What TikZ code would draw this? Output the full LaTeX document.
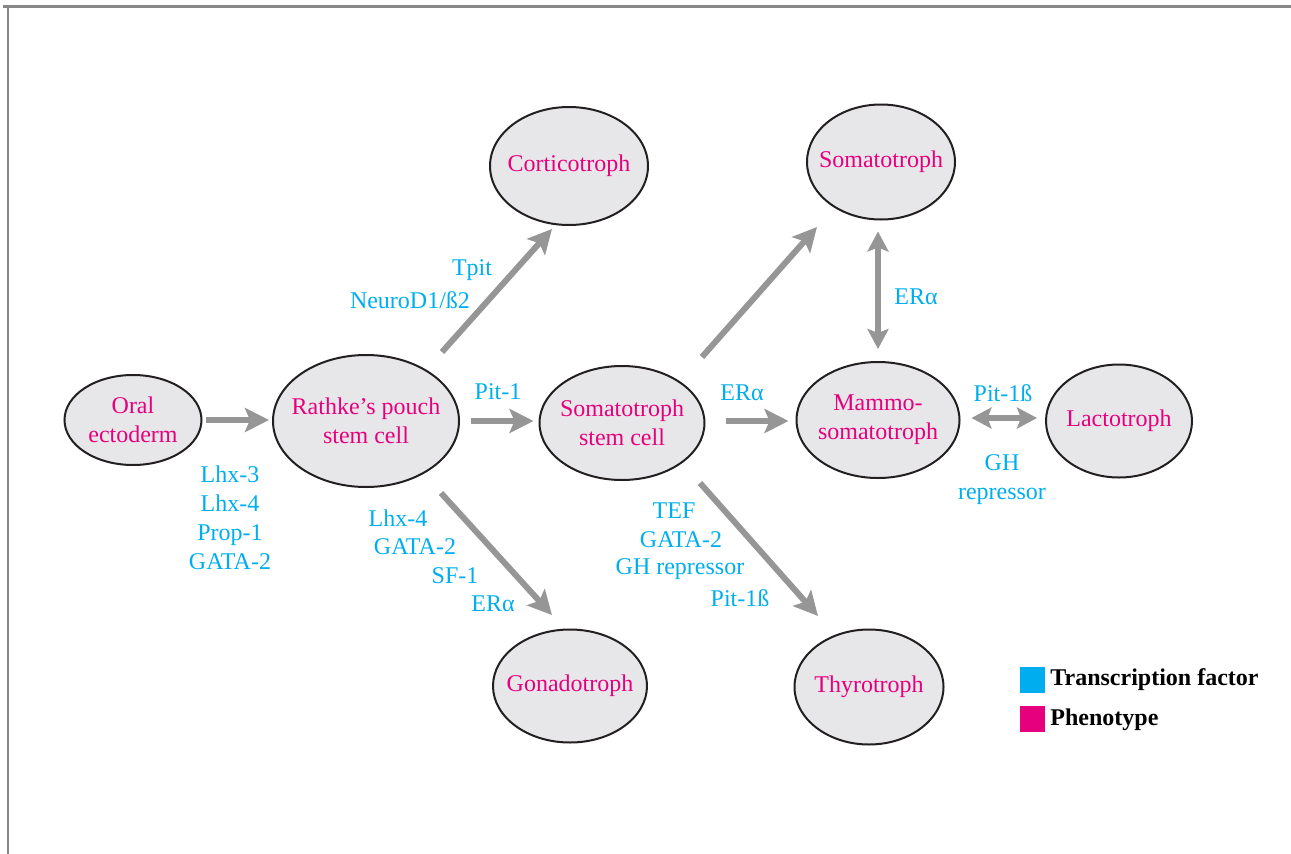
\documentclass[tikz,border=0pt]{standalone}
\usepackage{fontspec}
\setmainfont{Liberation Serif}
\usetikzlibrary{positioning,shapes.geometric,arrows.meta}
\definecolor{pheno}{RGB}{230,0,126}
\definecolor{factor}{RGB}{0,174,239}
\definecolor{cellfill}{RGB}{231,231,233}
\definecolor{cellline}{RGB}{35,31,32}
\definecolor{arrowgray}{RGB}{150,150,150}
\definecolor{framegray}{RGB}{135,135,135}

\begin{document}
\begin{tikzpicture}[x=1pt, y=-1pt,
  every node/.style={font=\fontsize{24}{29}\selectfont, inner sep=0pt},
  cell/.style={ellipse, draw=cellline, line width=2pt, fill=cellfill, text=pheno, align=center, inner sep=-40pt},
  tf/.style={text=factor, align=center},
  key/.style={minimum width=25pt, minimum height=26pt},
  flow/.style={draw=arrowgray, line width=6pt, -{Stealth[length=24pt,width=24pt,inset=5pt]}},
  both/.style={draw=arrowgray, line width=6pt, {Stealth[length=20pt,width=21pt,inset=4pt]}-{Stealth[length=20pt,width=21pt,inset=4pt]}}]
\useasboundingbox (0,0) rectangle (1291,854);
\draw[framegray, line width=3pt] (3,6) -- (1291,6);
\draw[framegray, line width=2.5pt] (8,6) -- (8,854);

\node (oral) [cell, minimum width=137pt, minimum height=90pt] at (133,420) {Oral\\ectoderm};
\node (rathke) [cell, minimum width=186pt, minimum height=132pt] at (366,421) {Rathke's pouch\\stem cell};
\node (cortico) [cell, minimum width=158pt, minimum height=118pt] at (569,166) {Corticotroph};
\node (stem) [cell, minimum width=165pt, minimum height=114pt] at (622,423) {Somatotroph\\stem cell};
\node (gonado) [cell, minimum width=154pt, minimum height=113pt] at (570,686) {Gonadotroph};
\node (somato) [cell, minimum width=148pt, minimum height=115pt] at (881,162) {Somatotroph};
\node (mammo) [cell, minimum width=163pt, minimum height=116pt] at (878,420) {Mammo-\\somatotroph};
\node (lacto) [cell, minimum width=146pt, minimum height=113pt] at (1119,421) {Lactotroph};
\node (thyro) [cell, minimum width=149pt, minimum height=115pt] at (869,687) {Thyrotroph};

\draw[flow] ([shift={(3,0)}]oral.east) -- ([shift={(-3,-1)}]rathke.west);
\draw[flow] ([shift={(11,0)}]rathke.east) -- ([shift={(-5,-2)}]stem.west);
\draw[flow] ([shift={(76,-69)}]rathke.center) -- ([shift={(-17,63)}]cortico.center);
\draw[flow] ([shift={(75,72)}]rathke.center) -- ([shift={(-18,-71)}]gonado.center);
\draw[flow] ([shift={(20,-2)}]stem.east) -- ([shift={(-7,1)}]mammo.west);
\draw[flow] ([shift={(80,-66)}]stem.center) -- ([shift={(-64,65)}]somato.center);
\draw[flow] ([shift={(78,60)}]stem.center) -- ([shift={(-51,-71)}]thyro.center);
\draw[both] ([shift={(-3,11)}]somato.south) -- ([shift={(0,-12)}]mammo.north);
\draw[both] ([shift={(11,-2)}]mammo.east) -- ([shift={(-8,-3)}]lacto.west);

\node (oralfactors) [tf] at (230,518) {Lhx-3\\Lhx-4\\Prop-1\\GATA-2};
\node (tpit) [tf] at (472,270) {Tpit};
\node (neurod) [tf] at (410,300) {NeuroD1/ß2};
\node (pitone) [tf] at (498,392) {Pit-1};
\node (glhx) [tf] at (398,518) {Lhx-4};
\node (ggata) [tf] at (415,547) {GATA-2};
\node (gsf) [tf] at (455,576) {SF-1};
\node (ger) [tf] at (493,604) {ERα};
\node (mer) [tf] at (742,393) {ERα};
\node (ser) [tf] at (916,297) {ERα};
\node (lpit) [tf] at (1003,393) {Pit-1ß};
\node (lgh) [tf] at (1002,480) {GH\\repressor};
\node (ttef) [tf] at (674,511) {TEF};
\node (tgata) [tf] at (681,540) {GATA-2};
\node (tgh) [tf] at (680,569) {GH repressor};
\node (tpitb) [tf] at (740,598) {Pit-1ß};

\node (tfkey) [key, fill=factor] at (1032.5,680) {};
\node (tflabel) [right=5pt of tfkey, font=\fontsize{24}{29}\selectfont\bfseries] {Transcription factor};
\node (phkey) [key, fill=pheno, below=13pt of tfkey] {};
\node (phlabel) [right=5pt of phkey, font=\fontsize{24}{29}\selectfont\bfseries] {Phenotype};
\end{tikzpicture}
\end{document}
